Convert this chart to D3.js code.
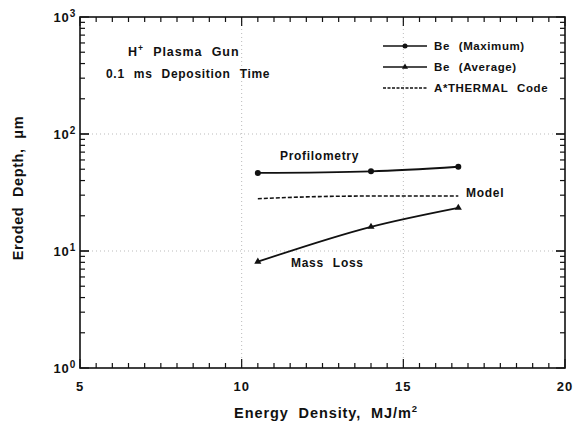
<!DOCTYPE html>
<html>
<head>
<meta charset="utf-8">
<script src="https://cdn.jsdelivr.net/npm/d3@7"></script>
<style>
  body { margin: 0; background: #fff; }
  svg text { font-family: "Liberation Sans", Arial, sans-serif; font-weight: bold; fill: #111; }
</style>
</head>
<body>
<svg id="chart" width="573" height="425"></svg>
<script>
// data
const energy = [10.5, 14.0, 16.7];
const beMaximum = [46.5, 48, 52.5];
const beAverage = [8.1, 16.1, 23.4];
const modelEnergy = [10.5, 12, 14, 16.7];
const modelDepth = [28, 29, 29.5, 29.5];
const xTicks = [5, 10, 15, 20];
const yTicks = [1, 10, 100, 1000];

const svg = d3.select("#chart");
const plotLeft = 80, plotRight = 565, plotTop = 17, plotBottom = 368;

const x = d3.scaleLinear().domain([5, 20]).range([plotLeft, plotRight]);
const y = d3.scaleLog().domain([1, 1000]).range([plotBottom, plotTop]);

// dotted grid at major ticks
const grid = svg.append("g").attr("stroke", "#aaa").attr("stroke-width", 0.8)
    .attr("stroke-dasharray", "1,3");
[10, 15].forEach(v => {
    grid.append("line").attr("x1", x(v)).attr("x2", x(v)).attr("y1", plotTop).attr("y2", plotBottom);
});
[10, 100].forEach(v => {
    grid.append("line").attr("x1", plotLeft).attr("x2", plotRight).attr("y1", y(v)).attr("y2", y(v));
});

// frame
svg.append("rect")
    .attr("x", plotLeft).attr("y", plotTop)
    .attr("width", plotRight - plotLeft).attr("height", plotBottom - plotTop)
    .attr("fill", "none").attr("stroke", "#111").attr("stroke-width", 1.6);

// inward ticks on all four sides
const minorX = d3.range(5, 20.01, 0.5);
const ticks = svg.append("g").attr("stroke", "#111").attr("stroke-width", 1.2);
minorX.forEach(v => {
    const len = xTicks.includes(v) ? 9 : 5;
    ticks.append("line").attr("x1", x(v)).attr("x2", x(v)).attr("y1", plotBottom).attr("y2", plotBottom - len);
    ticks.append("line").attr("x1", x(v)).attr("x2", x(v)).attr("y1", plotTop).attr("y2", plotTop + len);
});
const minorY = [];
[1, 10, 100].forEach(d => { for (let k = 1; k <= 10; k++) minorY.push(d * k); });
minorY.forEach(v => {
    const len = yTicks.includes(v) ? 9 : 5;
    ticks.append("line").attr("y1", y(v)).attr("y2", y(v)).attr("x1", plotLeft).attr("x2", plotLeft + len);
    ticks.append("line").attr("y1", y(v)).attr("y2", y(v)).attr("x1", plotRight).attr("x2", plotRight - len);
});

// tick labels
xTicks.forEach(v => {
    svg.append("text").attr("x", x(v)).attr("y", plotBottom + 23)
        .attr("text-anchor", "middle").attr("font-size", 13).attr("letter-spacing", 1).text(v);
});
yTicks.forEach(v => {
    const t = svg.append("text").attr("x", plotLeft - 4).attr("y", y(v) + 5)
        .attr("text-anchor", "end").attr("font-size", 13).attr("letter-spacing", 0.8);
    t.append("tspan").text("10");
    t.append("tspan").attr("dy", -5).attr("font-size", 10).text(Math.round(Math.log10(v)));
});

// axis titles
const xt = svg.append("text").attr("x", 326).attr("y", 418)
    .attr("text-anchor", "middle").attr("font-size", 14.5)
    .attr("letter-spacing", 0.9).attr("word-spacing", 5);
xt.append("tspan").text("Energy Density, MJ/m");
xt.append("tspan").attr("dy", -6).attr("font-size", 9.5).text("2");

svg.append("text")
    .attr("transform", `translate(23,188) rotate(-90)`)
    .attr("text-anchor", "middle").attr("font-size", 14.5)
    .attr("letter-spacing", 0.6).attr("word-spacing", 5)
    .text("Eroded Depth, \u03bcm");

// series
const line = d3.line().x(d => x(d[0])).y(d => y(d[1])).curve(d3.curveMonotoneX);
const maxPts = energy.map((e, i) => [e, beMaximum[i]]);
const avgPts = energy.map((e, i) => [e, beAverage[i]]);
const modelPts = modelEnergy.map((e, i) => [e, modelDepth[i]]);

svg.append("path").attr("d", line(maxPts)).attr("fill", "none")
    .attr("stroke", "#111").attr("stroke-width", 1.8);
svg.append("path").attr("d", line(avgPts)).attr("fill", "none")
    .attr("stroke", "#111").attr("stroke-width", 1.8);
svg.append("path").attr("d", line(modelPts)).attr("fill", "none")
    .attr("stroke", "#111").attr("stroke-width", 1.6).attr("stroke-dasharray", "4,2");

svg.selectAll(".dot").data(maxPts).enter().append("circle")
    .attr("cx", d => x(d[0])).attr("cy", d => y(d[1])).attr("r", 3).attr("fill", "#111");
const tri = d3.symbol().type(d3.symbolTriangle).size(22);
svg.selectAll(".tri").data(avgPts).enter().append("path")
    .attr("d", tri).attr("fill", "#111")
    .attr("transform", d => `translate(${x(d[0])},${y(d[1])})`);

// in-plot annotations
const ann = (tx, ty, s) => svg.append("text").attr("x", tx).attr("y", ty)
    .attr("font-size", 12).attr("letter-spacing", 0.7).attr("word-spacing", 5).text(s);
ann(280, 160, "Profilometry");
ann(466, 197, "Model");
ann(291, 267, "Mass Loss");

const t1 = svg.append("text").attr("x", 128).attr("y", 56).attr("font-size", 12.5)
    .attr("letter-spacing", 0.9).attr("word-spacing", 5);
t1.append("tspan").text("H");
t1.append("tspan").attr("dy", -5).attr("font-size", 8.5).text("+");
t1.append("tspan").attr("dy", 5).text(" Plasma Gun");
svg.append("text").attr("x", 106).attr("y", 78).attr("font-size", 12)
    .attr("letter-spacing", 0.7).attr("word-spacing", 5)
    .text("0.1 ms Deposition Time");

// legend
const legendLabels = ["Be (Maximum)", "Be (Average)", "A*THERMAL Code"];
const lg = svg.append("g");
legendLabels.forEach((lab, i) => {
    const ly = 46 + i * 21;
    lg.append("line").attr("x1", 383).attr("x2", 427).attr("y1", ly).attr("y2", ly)
        .attr("stroke", "#111").attr("stroke-width", i === 2 ? 1.4 : 1.6)
        .attr("stroke-dasharray", i === 2 ? "3,1.5" : null);
    if (i === 0) lg.append("circle").attr("cx", 405).attr("cy", ly).attr("r", 2.5).attr("fill", "#111");
    if (i === 1) lg.append("path").attr("d", d3.symbol().type(d3.symbolTriangle).size(16)())
        .attr("transform", `translate(405,${ly})`).attr("fill", "#111");
    lg.append("text").attr("x", 434).attr("y", ly + 4).attr("font-size", 11.5)
        .attr("letter-spacing", 0.6).attr("word-spacing", 5).text(lab);
});
</script>
</body>
</html>
